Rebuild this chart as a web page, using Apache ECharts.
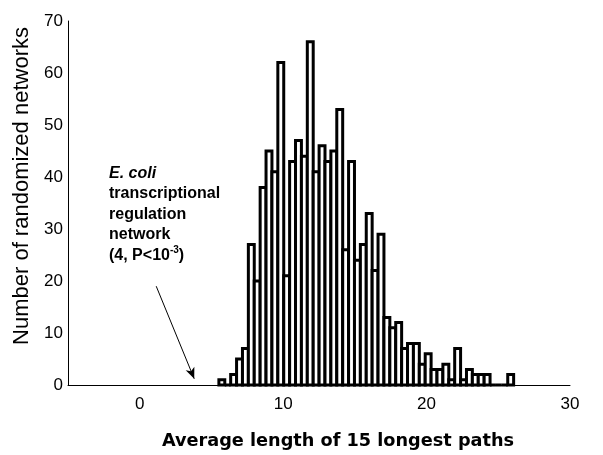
<!DOCTYPE html>
<html>
<head>
<meta charset="utf-8">
<script src="https://cdn.jsdelivr.net/npm/echarts@6/dist/echarts.min.js"></script>
<style>
  html, body { margin: 0; padding: 0; background: #fff; }
  #chart { width: 603px; height: 455px; }
</style>
</head>
<body>
<div id="chart"></div>
<script>
// histogram bins: left edge of first bin and bin width (x units)
var binStart = 5.52;
var binWidth = 0.411;
// number of randomized networks per bin (1000 in total)
var counts = [1, 0, 2, 5, 7, 27, 20, 38, 45, 41,
              62, 21, 43, 47, 44, 66, 41, 46, 43, 45,
              53, 26, 43, 24, 27, 33, 22, 29, 13, 11,
              12, 7, 8, 8, 4, 6, 3, 3, 4, 1,
              7, 1, 3, 2, 2, 2, 0, 0, 0, 2];
var xTicks = [0, 10, 20, 30];
var yTicks = [0, 10, 20, 30, 40, 50, 60, 70];
// E. coli value marked by the arrow
var ecoliValue = 4;

var labelFont = "'Liberation Sans', Arial, sans-serif";

var binData = counts.map(function (c, i) {
    return [binStart + i * binWidth, binStart + (i + 1) * binWidth, c];
});

var chart = echarts.init(document.getElementById('chart'));

chart.setOption({
    backgroundColor: '#fff',
    animation: false,
    grid: { left: 68, right: 33, top: 21, bottom: 70 },
    xAxis: {
        type: 'value',
        min: -5,
        max: 30,
        interval: 5,
        axisLine: { onZero: false, lineStyle: { color: '#000', width: 1 } },
        axisTick: { show: false },
        splitLine: { show: false },
        axisLabel: {
            color: '#000',
            fontSize: 17,
            fontFamily: labelFont,
            margin: 11,
            formatter: function (v) {
                return xTicks.indexOf(v) >= 0 ? String(v) : '';
            }
        }
    },
    yAxis: {
        type: 'value',
        min: yTicks[0],
        max: yTicks[yTicks.length - 1],
        interval: 10,
        axisLine: { show: true, onZero: false, lineStyle: { color: '#000', width: 1 } },
        axisTick: { show: false },
        splitLine: { show: false },
        axisLabel: {
            color: '#000',
            fontSize: 17,
            fontFamily: labelFont,
            margin: 5
        }
    },
    graphic: [
        {
            type: 'text',
            x: 22,
            y: 186,
            rotation: Math.PI / 2,
            style: {
                text: 'Number of randomized networks',
                fill: '#000',
                font: "22px 'Liberation Sans', Arial, sans-serif",
                align: 'center',
                verticalAlign: 'middle'
            }
        },
        {
            type: 'text',
            x: 338,
            y: 441,
            style: {
                text: 'Average length of 15 longest paths',
                fill: '#000',
                font: "bold 17.7px 'DejaVu Sans', sans-serif",
                align: 'center',
                verticalAlign: 'middle'
            }
        },
        {
            type: 'text',
            x: 109,
            y: 163,
            style: {
                text: '{i|E. coli}\ntranscriptional\nregulation\nnetwork\n(4, P<10{sup|-3})',
                fill: '#000',
                fontFamily: labelFont,
                fontWeight: 'bold',
                fontSize: 16,
                lineHeight: 20.5,
                align: 'left',
                verticalAlign: 'top',
                rich: {
                    i: { fontStyle: 'italic', fontWeight: 'bold', fontSize: 16, fontFamily: labelFont, lineHeight: 20.5 },
                    sup: { fontSize: 10, fontWeight: 'bold', fontFamily: labelFont, verticalAlign: 'top', lineHeight: 20.5, padding: [0, 0, 8, 0] }
                }
            }
        }
    ],
    series: [{
        type: 'custom',
        data: binData,
        renderItem: function (params, api) {
            var p0 = api.coord([api.value(0), 0]);
            var p1 = api.coord([api.value(1), api.value(2)]);
            return {
                type: 'rect',
                shape: { x: p0[0], y: p1[1], width: p1[0] - p0[0], height: p0[1] - p1[1] },
                style: { fill: '#fff', stroke: '#000', lineWidth: 3 }
            };
        },
        markLine: {
            silent: true,
            symbol: ['none', 'arrow'],
            symbolSize: [7, 11],
            label: { show: false },
            lineStyle: { color: '#000', width: 1, type: 'solid' },
            data: [[{ coord: [1.15, 19] }, { coord: [ecoliValue - 0.2, 1.2] }]]
        }
    }]
});
</script>
</body>
</html>
